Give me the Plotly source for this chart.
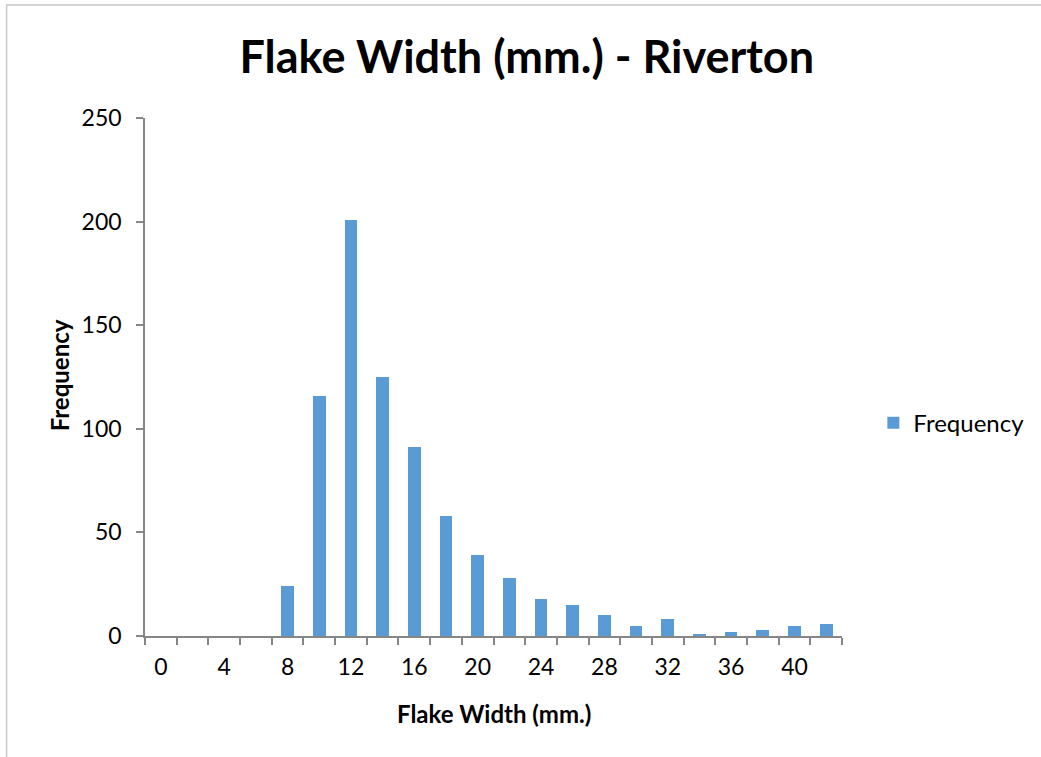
import plotly.graph_objects as go

# Bin centres (mm) and counts of flakes per bin
widths = [0, 2, 4, 6, 8, 10, 12, 14, 16, 18, 20, 22, 24, 26, 28, 30, 32, 34, 36, 38, 40, 42]
counts = [0, 0, 0, 0, 24, 116, 201, 125, 91, 58, 39, 28, 18, 15, 10, 5, 8, 1, 2, 3, 5, 6]
x_tick_values = [0, 4, 8, 12, 16, 20, 24, 28, 32, 36, 40]
x_tick_text = [str(v) for v in x_tick_values]
bin_edges = [w - 1 for w in widths] + [widths[-1] + 1]

FONT = "Lato"
AXIS_GRAY = "#868686"
BAR_BLUE = "#5B9BD5"

fig = go.Figure()
fig.add_trace(go.Bar(
    x=widths, y=counts, name="Frequency", width=0.8,
    marker=dict(color=BAR_BLUE, line=dict(width=0)),
    showlegend=True,
))

fig.update_layout(
    width=1041, height=757,
    margin=dict(l=145, r=196, t=118, b=121),
    paper_bgcolor="white", plot_bgcolor="white",
    font=dict(family=FONT, color="#000000", size=23),
    title=dict(text="<b>Flake Width (mm.) - Riverton</b>", xref="container", x=0.506,
               xanchor="center", yref="container", y=1 - 57 / 757, yanchor="middle",
               font=dict(family=FONT, size=45, color="#000000")),
    legend=dict(x=1.045, xanchor="left", y=0.411, yanchor="middle",
                font=dict(family=FONT, size=24), bgcolor="rgba(0,0,0,0)"),
    bargap=0,
)

fig.update_xaxes(
    range=[-1, 43], showgrid=False, zeroline=False,
    showline=True, linecolor=AXIS_GRAY, linewidth=1.5,
    tickmode="array", tickvals=x_tick_values, ticktext=x_tick_text,
    ticks="", ticklabelstandoff=10,
    minor=dict(tickmode="array", tickvals=bin_edges, ticks="outside",
               ticklen=7, tickwidth=1.5, tickcolor=AXIS_GRAY, showgrid=False),
    tickfont=dict(family=FONT, size=23),
)
fig.update_yaxes(
    range=[0, 250], dtick=50, showgrid=False, zeroline=False,
    showline=True, linecolor=AXIS_GRAY, linewidth=1.5,
    ticks="outside", ticklen=7, tickwidth=1.5, tickcolor=AXIS_GRAY,
    ticklabelstandoff=10,
    tickfont=dict(family=FONT, size=23),
)

# Axis titles
fig.add_annotation(text="<b>Flake Width (mm.)</b>", xref="paper", yref="paper",
                   x=0.5, y=-(713 - 636) / 518, xanchor="center", yanchor="middle",
                   showarrow=False, font=dict(family=FONT, size=24))
fig.add_annotation(text="<b>Frequency</b>", xref="paper", yref="paper",
                   x=(59 - 145) / 700, y=(636 - 375) / 518, xanchor="center", yanchor="middle",
                   textangle=-90, showarrow=False, font=dict(family=FONT, size=24))

# Chart-area border
fig.add_shape(type="rect", xref="paper", yref="paper",
              x0=(6 - 145) / 700, x1=1.6, y0=-1.0, y1=(636 - 5) / 518,
              line=dict(color="#C8C8C8", width=1.5), fillcolor="rgba(0,0,0,0)", layer="below")

fig.write_html("out.html")
